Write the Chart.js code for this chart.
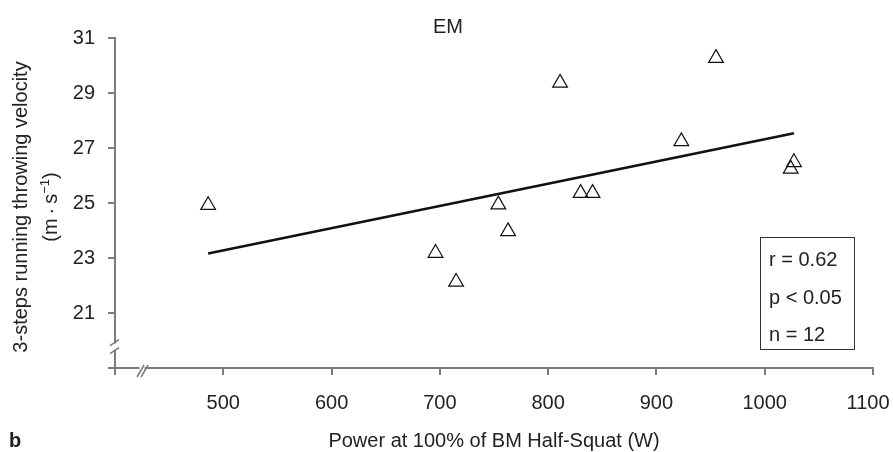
<!DOCTYPE html>
<html>
<head>
<meta charset="utf-8">
<script src="https://cdn.jsdelivr.net/npm/chart.js@4.4.1/dist/chart.umd.min.js"></script>
<style>
  body { margin: 0; background: #fff; }
  #wrap { width: 893px; height: 452px; }
</style>
</head>
<body>
<div id="wrap"><canvas id="chart"></canvas></div>
<script>
// values
let power = [486, 696, 715, 754, 763, 811, 830, 841, 923, 955, 1024, 1027];
let velocity = [24.92, 23.18, 22.13, 24.94, 23.97, 29.37, 25.36, 25.36, 27.24, 30.27, 26.24, 26.48];
let fit_x = [486, 1027];
let fit_y = [23.16, 27.54];
let x_ticks = [400, 500, 600, 700, 800, 900, 1000, 1100];
let y_ticks = [19, 21, 23, 25, 27, 29, 31];
let stats = ["r = 0.62", "p < 0.05", "n = 12"];

let title_text = "EM";
let x_title = "Power at 100% of BM Half-Squat (W)";
let y_title = "3-steps running throwing velocity";
let panel_label = "b";

let font_family = '"Liberation Sans", Arial, Helvetica, sans-serif';
let text_color = "#222";
let axis_color = "#7b7b7b";

let points = power.map((p, i) => ({ x: p, y: velocity[i] }));
let fit_points = fit_x.map((p, i) => ({ x: p, y: fit_y[i] }));

// axis breaks, texts and the stats box
let decorations = {
  id: "decorations",
  afterDraw(chart) {
    let ctx = chart.ctx;
    let xs = chart.scales.x;
    let ys = chart.scales.y;
    let area = chart.chartArea;
    ctx.save();

    // break on y axis
    let yb = ys.getPixelForValue(19.78);
    ctx.fillStyle = "#fff";
    ctx.fillRect(area.left - 3, yb - 3, 6, 6);
    ctx.strokeStyle = axis_color;
    ctx.lineWidth = 1.5;
    ctx.beginPath();
    ctx.moveTo(area.left - 5, yb - 1);
    ctx.lineTo(area.left + 4, yb - 7);
    ctx.moveTo(area.left - 5, yb + 7);
    ctx.lineTo(area.left + 4, yb + 1);
    ctx.stroke();

    // break on x axis
    let xb = xs.getPixelForValue(425);
    ctx.fillStyle = "#fff";
    ctx.fillRect(xb - 2.5, area.bottom - 3, 5, 6);
    ctx.beginPath();
    ctx.moveTo(xb - 5, area.bottom + 9);
    ctx.lineTo(xb + 2, area.bottom - 3);
    ctx.moveTo(xb - 1, area.bottom + 9);
    ctx.lineTo(xb + 6, area.bottom - 3);
    ctx.stroke();

    ctx.fillStyle = text_color;
    ctx.font = "20px " + font_family;
    ctx.textBaseline = "alphabetic";

    // title
    ctx.textAlign = "center";
    ctx.fillText(title_text, 448, 33);

    // x title
    ctx.fillText(x_title, (area.left + area.right) / 2, 447);

    // panel label
    ctx.textAlign = "left";
    ctx.font = "bold 20px " + font_family;
    ctx.fillText(panel_label, 9, 447);

    // y title, two lines
    ctx.font = "20px " + font_family;
    let cy = 207;
    ctx.save();
    ctx.translate(27, cy);
    ctx.rotate(-Math.PI / 2);
    ctx.textAlign = "center";
    ctx.fillText(y_title, 0, 0);
    ctx.restore();

    ctx.save();
    ctx.translate(57, cy);
    ctx.rotate(-Math.PI / 2);
    ctx.textAlign = "left";
    let part1 = "(m\u2009\u00b7\u2009s";
    let sup = "\u22121";
    let part3 = ")";
    ctx.font = "20px " + font_family;
    let w1 = ctx.measureText(part1).width;
    let w3 = ctx.measureText(part3).width;
    ctx.font = "13px " + font_family;
    let w2 = ctx.measureText(sup).width;
    let start = -(w1 + w2 + w3) / 2;
    ctx.font = "20px " + font_family;
    ctx.fillText(part1, start, 0);
    ctx.font = "13px " + font_family;
    ctx.fillText(sup, start + w1, -8);
    ctx.font = "20px " + font_family;
    ctx.fillText(part3, start + w1 + w2, 0);
    ctx.restore();

    // stats box
    ctx.strokeStyle = "#333";
    ctx.lineWidth = 1;
    ctx.strokeRect(760.5, 237.5, 94, 112);
    ctx.textAlign = "left";
    for (let i = 0; i < stats.length; i++) {
      ctx.fillText(stats[i], 769, 266 + i * 37.5);
    }

    ctx.restore();
  },
};

let config = {
  data: {
    datasets: [
      {
        type: "scatter",
        label: "EM",
        data: points,
        pointStyle: "triangle",
        pointRadius: 8.5,
        pointHoverRadius: 8.5,
        borderColor: "#111",
        backgroundColor: "rgba(0,0,0,0)",
        pointBorderWidth: 1.2,
      },
      {
        type: "line",
        label: "fit",
        data: fit_points,
        borderColor: "#111",
        borderWidth: 2.6,
        pointRadius: 0,
        fill: false,
      },
    ],
  },
  options: {
    responsive: true,
    maintainAspectRatio: false,
    animation: false,
    events: [],
    layout: {
      autoPadding: false,
      padding: { left: 0, right: 20, top: 38, bottom: 0 },
    },
    plugins: {
      legend: { display: false },
      tooltip: { enabled: false },
      title: { display: false },
    },
    scales: {
      x: {
        type: "linear",
        position: "bottom",
        min: 400,
        max: 1100,
        afterFit: (scale) => {
          scale.height = 84;
          scale.paddingLeft = 0;
          scale.paddingRight = 0;
        },
        afterBuildTicks: (scale) => {
          scale.ticks = x_ticks.map((v) => ({ value: v }));
        },
        ticks: {
          color: text_color,
          font: { family: font_family, size: 20 },
          padding: 16,
          maxRotation: 0,
          callback: (v) => {
            if (v === 400) return "";
            // last label sits a little left so it fits the page
            if (v === 1100) return String(v) + "\u2002";
            return String(v);
          },
        },
        border: { color: axis_color, width: 2 },
        grid: {
          drawOnChartArea: false,
          tickLength: 7,
          color: axis_color,
          lineWidth: 2,
        },
      },
      y: {
        type: "linear",
        position: "left",
        min: 19,
        max: 31,
        afterFit: (scale) => {
          scale.width = 115;
          scale.paddingTop = 0;
          scale.paddingBottom = 0;
        },
        afterBuildTicks: (scale) => {
          scale.ticks = y_ticks.map((v) => ({ value: v }));
        },
        ticks: {
          color: text_color,
          font: { family: font_family, size: 20 },
          padding: 13,
          callback: (v) => (v === 19 ? "" : String(v)),
        },
        border: { color: axis_color, width: 2 },
        grid: {
          drawOnChartArea: false,
          tickLength: 7,
          color: axis_color,
          lineWidth: 2,
        },
      },
    },
  },
  plugins: [decorations],
};

let chart = new Chart(document.getElementById("chart"), config);
</script>
</body>
</html>
